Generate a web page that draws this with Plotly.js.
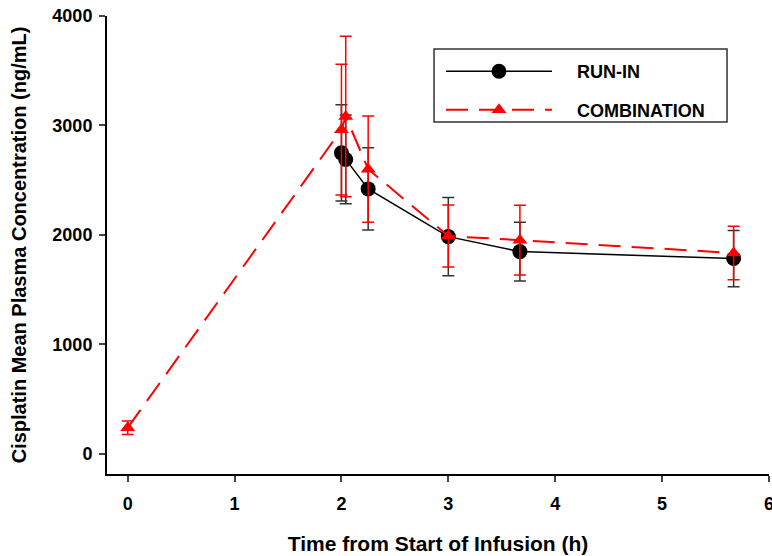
<!DOCTYPE html>
<html>
<head>
<meta charset="utf-8">
<script src="https://cdn.plot.ly/plotly-3.0.1.min.js"></script>
<style>html,body{margin:0;padding:0;background:#fff;}#chart{width:772px;height:556px;}</style>
</head>
<body>
<div id="chart"></div>
<script>
// RUN-IN series
const runInTime = [2.0, 2.04, 2.25, 3.0, 3.67, 5.67];
const runInConc = [2750, 2690, 2421, 1985, 1848, 1785];
const runInErr  = [440, 405, 375, 357, 268, 257];

// COMBINATION series
const comboTime = [0, 2.0, 2.04, 2.25, 3.0, 3.67, 5.67];
const comboConc = [240, 2962, 3083, 2601, 1990, 1953, 1835];
const comboErr  = [62, 597, 733, 485, 283, 318, 245];

const xTicks = [0, 1, 2, 3, 4, 5, 6];
const yTicks = [0, 1000, 2000, 3000, 4000];

const seriesNames = ['RUN-IN', 'COMBINATION'];

const FONT = 'Liberation Sans, Arial, sans-serif';
const PAD = '\u00a0\u00a0\u00a0\u00a0';

const traces = [
  {
    name: PAD + seriesNames[0], legendgroup: 'a',
    x: runInTime, y: runInConc,
    mode: 'lines+markers',
    line: {color: '#000000', width: 1.5},
    marker: {symbol: 'circle', size: 15, color: '#000000'},
    error_y: {type: 'data', array: runInErr, visible: true, color: '#333333', thickness: 1.5, width: 6}
  },
  {
    name: PAD + seriesNames[1], legendgroup: 'b',
    x: comboTime, y: comboConc,
    mode: 'lines+markers',
    line: {color: '#ff0000', width: 2, dash: '22px,11px'},
    marker: {symbol: 'triangle-up', size: 13, color: '#ff0000'},
    error_y: {type: 'data', array: comboErr, visible: true, color: '#ff0000', thickness: 1.5, width: 6}
  }
];

const layout = {
  width: 772, height: 556,
  margin: {l: 107, r: 3, t: 16, b: 82},
  paper_bgcolor: '#ffffff', plot_bgcolor: '#ffffff',
  font: {family: FONT, color: '#000000'},
  showlegend: true,
  legend: {
    x: 0.5045, y: 0.919, xanchor: 'left', yanchor: 'top',
    borderwidth: 0, bgcolor: 'rgba(0,0,0,0)',
    font: {family: FONT, size: 18, weight: 'bold', color: '#000000'},
    itemwidth: 106, tracegroupgap: 12
  },
  shapes: [{
    type: 'rect', xref: 'paper', yref: 'paper',
    x0: 0.494, x1: 0.9366, y0: 0.7686, y1: 0.928,
    line: {color: '#333333', width: 1.5}, fillcolor: 'rgba(0,0,0,0)', layer: 'below'
  }],
  xaxis: {
    range: [-0.194, 6.001], tickvals: xTicks, ticktext: xTicks.map(String),
    showgrid: false, zeroline: false, showline: true, linecolor: '#000000', linewidth: 2,
    ticks: 'outside', ticklen: 6, tickwidth: 2, tickcolor: '#444444',
    ticklabeloverflow: 'allow', ticklabelstandoff: 6,
    tickfont: {family: FONT, size: 18, weight: 'bold'},
    title: {text: 'Time from Start of Infusion (h)', font: {family: FONT, size: 21, weight: 'bold'}, standoff: 24}
  },
  yaxis: {
    range: [-183, 4000], tickvals: yTicks, ticktext: yTicks.map(String),
    showgrid: false, zeroline: false, showline: true, linecolor: '#000000', linewidth: 2,
    ticks: 'outside', ticklen: 6, tickwidth: 2, tickcolor: '#444444',
    ticklabelstandoff: 3,
    tickfont: {family: FONT, size: 18, weight: 'bold'},
    title: {text: 'Cisplatin Mean Plasma Concentration (ng/mL)', font: {family: FONT, size: 20, weight: 'bold'}, standoff: 20}
  }
};

Plotly.newPlot('chart', traces, layout, {displayModeBar: false, staticPlot: true});
</script>
</body>
</html>
